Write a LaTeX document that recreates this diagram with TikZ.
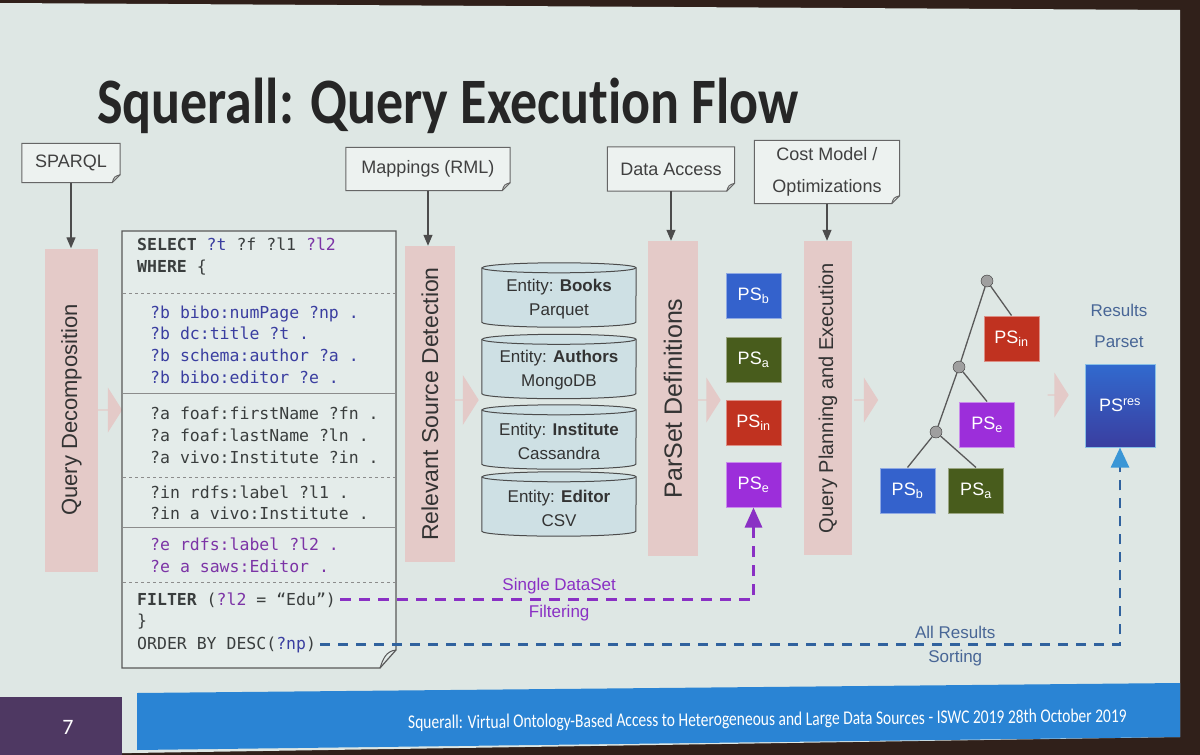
\documentclass[tikz,border=0pt]{standalone}
\usepackage{fontspec}
\usepackage{graphicx}
\setmainfont{Liberation Sans}
\setmonofont{DejaVu Sans Mono}
\newfontfamily\slidefont[Ligatures=NoCommon]{Carlito}
\usetikzlibrary{positioning,arrows.meta,shapes.geometric,shapes.arrows,calc}
\definecolor{slidebg}{RGB}{222,231,228}
\definecolor{framedark}{RGB}{48,32,26}
\definecolor{footerblue}{RGB}{42,132,212}
\definecolor{footerpurple}{RGB}{78,56,98}
\definecolor{stepbg}{RGB}{228,202,200}
\definecolor{querybg}{RGB}{228,236,234}
\definecolor{cylfill}{RGB}{206,224,228}
\definecolor{psblue}{RGB}{52,98,204}
\definecolor{psgreen}{RGB}{72,92,28}
\definecolor{psred}{RGB}{192,50,32}
\definecolor{pspurple}{RGB}{156,46,218}
\definecolor{qblue}{RGB}{58,62,160}
\definecolor{qpurple}{RGB}{124,52,166}
\definecolor{qgrey}{RGB}{58,62,62}
\definecolor{filterpurple}{RGB}{138,48,196}
\definecolor{sortblue}{RGB}{48,98,158}
\definecolor{arrowblue}{RGB}{58,150,214}
\definecolor{resultblue}{RGB}{72,102,150}
\colorlet{notefill}{slidebg!55!white}
\newcommand{\pxsize}[1]{\fontsize{#1}{#1}\selectfont}
% note box outline with a turned-down corner
\newcommand{\noteframe}[1]{%
  \draw[draw=black!60, fill=notefill, line width=1pt] (#1.north west) -- (#1.north east)
    -- ([yshift=8pt]#1.south east) -- ([xshift=-8pt]#1.south east) -- (#1.south west) -- cycle;
  \draw[draw=black!60, line width=1pt] ([yshift=8pt]#1.south east)
    .. controls ([xshift=-6pt,yshift=6pt]#1.south east) .. ([xshift=-8pt]#1.south east);}
% data source drum around a node
\newcommand{\dbframe}[1]{%
  \draw[draw=black!70, fill=cylfill, line width=1pt] ([yshift=-5pt]#1.north west) -- ([yshift=5pt]#1.south west)
    arc[start angle=180, end angle=360, x radius=77pt, y radius=5pt] -- ([yshift=-5pt]#1.north east)
    arc[start angle=0, end angle=180, x radius=77pt, y radius=5pt] -- cycle;
  \draw[draw=black!70, line width=1pt] ([yshift=-5pt]#1.north west)
    arc[start angle=180, end angle=360, x radius=77pt, y radius=5pt];}
\tikzset{
  notebox/.style={inner sep=0pt, text=black!75, font=\fontsize{18}{32}\selectfont, align=center},
  stepcol/.style={fill=stepbg, rotate=90, text=black!80, inner sep=0pt},
  flowarrow/.style={single arrow, fill=stepbg, inner sep=0pt, single arrow head extend=7pt,
    single arrow tip angle=115, minimum height=24pt, minimum width=45pt},
  psbox/.style={fill=#1, draw=#1!55!white, line width=1pt, text=white, minimum width=55pt,
    minimum height=45pt, font=\pxsize{18}, inner sep=0pt},
  dbbox/.style={minimum width=154pt, minimum height=64pt, inner sep=0pt},
  dbtext/.style={align=center, font=\fontsize{17}{24}\selectfont, text=black!80, inner sep=0pt},
  qline/.style={anchor=base west, inner sep=0pt, font=\ttfamily\pxsize{16.5}, text=qgrey},
  qsep/.style={draw=black!45, line width=1pt},
  joint/.style={circle, fill=gray!75, draw=gray!40!black, minimum size=12pt, inner sep=0pt},
  treeedge/.style={draw=black!65, line width=1.3pt},
  feed/.style={-{Triangle[length=11pt,width=9pt]}, draw=black!70, line width=1.3pt},
  filterflow/.style={draw=filterpurple, line width=3pt, dash pattern=on 11pt off 8pt,
    -{Triangle[length=20pt,width=17pt]}},
  sortflow/.style={draw=sortblue, line width=2.6pt, dash pattern=on 10pt off 8pt,
    -{Triangle[length=20pt,width=18pt,color=arrowblue]}},
  flowlabel/.style={font=\pxsize{17}, inner sep=0pt}
}
\begin{document}
\begin{tikzpicture}[x=1pt,y=-1pt]
  \useasboundingbox (0,0) rectangle (1200,755);
  % projected slide and footer
  \fill[framedark] (0,0) rectangle (1200,755);
  \fill[slidebg] (0,3) -- (1180,10) -- (1180,737) -- (0,755) -- cycle;
  \fill[footerblue] (137,693) -- (1180,683) -- (1180,737) -- (137,750) -- cycle;
  \fill[footerpurple] (0,697) rectangle (122,755);
  \node[text=white, font=\slidefont\pxsize{22}] (pageno) at (68,727) {7};
  \node[anchor=base east, text=white, rotate=0.55, inner sep=0pt, font=\slidefont\pxsize{15.5}] (footer) at (1127,722)
    {\scalebox{1}[1.25]{Squerall: Virtual Ontology-Based Access to Heterogeneous and Large Data Sources - ISWC 2019 28th October 2019}};
  \node[anchor=base west, inner sep=0pt, text=black!85, font=\slidefont\bfseries\pxsize{54}] (title) at (97,123)
    {\scalebox{1}[1.2]{Squerall: Query Execution Flow}};

  % inputs on top
  \node[notebox, minimum width=98pt, minimum height=39pt] (sparql) at (71,163) {};
  \node[notebox, minimum width=164pt, minimum height=43pt] (rml) at (428,169) {};
  \node[notebox, minimum width=127pt, minimum height=44pt] (access) at (671,169) {};
  \node[notebox, minimum width=145pt, minimum height=63pt] (cost) at (827,172) {};
  \noteframe{sparql} \noteframe{rml} \noteframe{access} \noteframe{cost}
  \node[notebox] at (sparql) {SPARQL};
  \node[notebox] at (rml) {Mappings (RML)};
  \node[notebox] at (access) {Data Access};
  \node[notebox] at (cost) {Cost Model /\\Optimizations};

  % processing steps
  \node[stepcol, minimum width=323pt, minimum height=53pt, font=\pxsize{22}] (decomp) at (71.5,410) {Query Decomposition};
  \node[stepcol, minimum width=316pt, minimum height=50pt, font=\pxsize{23}] (detect) at (430,404) {Relevant Source Detection};
  \node[stepcol, minimum width=315pt, minimum height=50pt, font=\pxsize{25}] (parset) at (673,398.5) {ParSet Definitions};
  \node[stepcol, minimum width=314pt, minimum height=48pt, font=\pxsize{20}] (plan) at (828,398) {Query Planning and Execution};
  \draw[feed] (sparql.south) -- (sparql.south |- decomp.east);
  \draw[feed] (rml.south) -- (rml.south |- detect.east);
  \draw[feed] (access.south) -- (access.south |- parset.east);
  \draw[feed] (cost.south) -- (cost.south |- plan.east);
  \node[flowarrow] (go1) at (110,410) {};
  \node[flowarrow, minimum width=50pt] (go2) at (466.5,400) {};
  \node[flowarrow] (go3) at (708.5,400) {};
  \node[flowarrow] (go4) at (866,400) {};
  \node[flowarrow, minimum height=21pt] (go5) at (1058,395) {};

  % query
  \draw[draw=black!65, fill=querybg, line width=1.2pt] (122,231) -- (396,231) -- (396,650) -- (380,668) -- (122,668) -- cycle;
  \draw[draw=black!65, line width=1pt] (396,650) .. controls (386,651) and (383,659) .. (380,668);
  \draw[qsep, dashed] (123,293) -- (395,293);
  \draw[qsep] (123,393) -- (395,393);
  \draw[qsep, dashed] (123,477) -- (395,477);
  \draw[qsep] (123,527) -- (395,527);
  \draw[qsep, dashed] (123,582) -- (395,582);
  \node[qline] (sel) at (137,250) {\textbf{SELECT} \textcolor{qblue}{?t} ?f ?l1 \textcolor{qpurple}{?l2}};
  \node[qline] (whr) at (137,272) {\textbf{WHERE} \{};
  \node[qline, text=qblue] (b1) at (150,318) {?b bibo:numPage ?np .};
  \node[qline, text=qblue] (b2) at (150,339) {?b dc:title ?t .};
  \node[qline, text=qblue] (b3) at (150,361) {?b schema:author ?a .};
  \node[qline, text=qblue] (b4) at (150,383) {?b bibo:editor ?e .};
  \node[qline] (a1) at (150,419) {?a foaf:firstName ?fn .};
  \node[qline] (a2) at (150,441) {?a foaf:lastName ?ln .};
  \node[qline] (a3) at (150,463) {?a vivo:Institute ?in .};
  \node[qline] (i1) at (150,498) {?in rdfs:label ?l1 .};
  \node[qline] (i2) at (150,519) {?in a vivo:Institute .};
  \node[qline, text=qpurple] (e1) at (150,550) {?e rdfs:label ?l2 .};
  \node[qline, text=qpurple] (e2) at (150,572) {?e a saws:Editor .};
  \node[qline] (filter) at (137,605) {\textbf{FILTER} (\textcolor{qpurple}{?l2} = “Edu”)};
  \node[qline] (close) at (137,626) {\}};
  \node[qline] (order) at (137,649) {ORDER BY DESC(\textcolor{qblue}{?np})};

  % sources
  \node[dbbox] (books) at (559,295) {};
  \node[dbbox] (authors) at (559,366.5) {};
  \node[dbbox] (inst) at (559,437) {};
  \node[dbbox] (editor) at (559,504) {};
  \dbframe{books} \dbframe{authors} \dbframe{inst} \dbframe{editor}
  \node[dbtext] at ([yshift=-4pt]books.center) {Entity: \textbf{Books}\\Parquet};
  \node[dbtext] at ([yshift=-4pt]authors.center) {Entity: \textbf{Authors}\\MongoDB};
  \node[dbtext] at ([yshift=-4pt]inst.center) {Entity: \textbf{Institute}\\Cassandra};
  \node[dbtext] at ([yshift=-4pt]editor.center) {Entity: \textbf{Editor}\\CSV};

  % parsets
  \node[psbox=psblue] (psb) at (753.5,295.5) {PS\textsubscript{b}};
  \node[psbox=psgreen] (psa) at (753.5,359.5) {PS\textsubscript{a}};
  \node[psbox=psred] (psin) at (753.5,423) {PS\textsubscript{in}};
  \node[psbox=pspurple] (pse) at (753.5,484.5) {PS\textsubscript{e}};

  % join tree
  \node[joint] (j1) at (987,281) {};
  \node[joint] (j2) at (959,367) {};
  \node[joint] (j3) at (936,432) {};
  \node[psbox=psred] (tin) at (1011.5,338.5) {PS\textsubscript{in}};
  \node[psbox=pspurple] (te) at (987,424.5) {PS\textsubscript{e}};
  \node[psbox=psblue] (tb) at (907.5,490.5) {PS\textsubscript{b}};
  \node[psbox=psgreen] (ta) at (976,490.5) {PS\textsubscript{a}};
  \draw[treeedge] (j1) -- (tin.north);
  \draw[treeedge] (j1) -- (j2);
  \draw[treeedge] (j2) -- (te.north);
  \draw[treeedge] (j2) -- (j3);
  \draw[treeedge] (j3) -- (tb.north);
  \draw[treeedge] (j3) -- (ta.north);

  % result
  \node[flowlabel, text=resultblue] (reslabel) at (1119,310) {Results};
  \node[flowlabel, text=resultblue] (parlabel) at (1119,342) {Parset};
  \node[top color=psblue!95!cyan, bottom color=qblue, draw=arrowblue!60!white, line width=1pt, minimum width=70pt,
    minimum height=83pt, text=white, font=\pxsize{18}, inner sep=0pt] (psres) at (1120,405.5) {PS\textsuperscript{res}};

  % pushed-down operations
  \draw[filterflow] (filter.east) ++(4pt,0) -| (pse.south)
    node[flowlabel, text=filterpurple, pos=.265, above=4pt] {Single DataSet}
    node[flowlabel, text=filterpurple, pos=.265, below=4pt] {Filtering};
  \draw[sortflow] (order.east) ++(4pt,0) -| (psres.south)
    node[flowlabel, text=resultblue, pos=.397, above=4pt] {All Results}
    node[flowlabel, text=resultblue, pos=.397, below=4pt] {Sorting};
\end{tikzpicture}
\end{document}
